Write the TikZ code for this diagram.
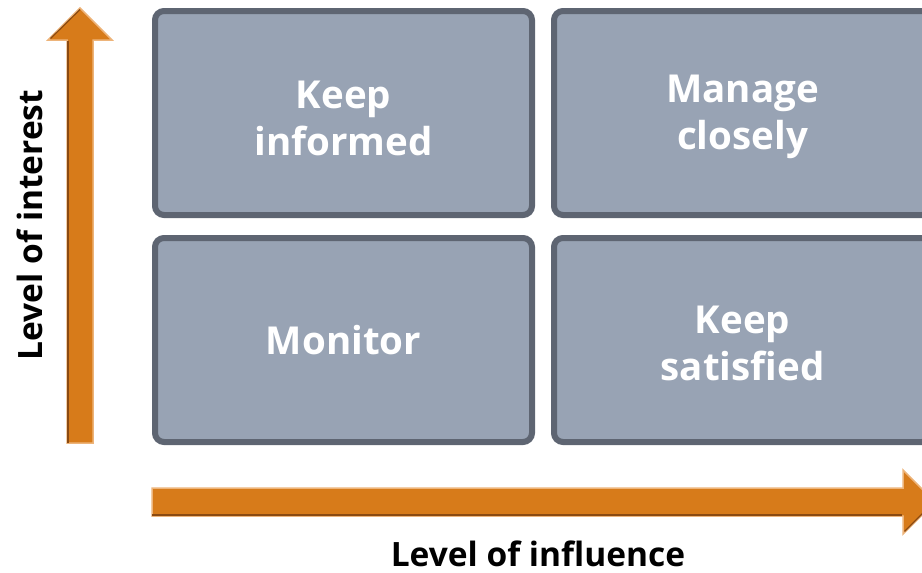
\documentclass[tikz,border=0pt]{standalone}
\usepackage{fontspec}
\setmainfont{Open Sans}
\usetikzlibrary{shadows}
\definecolor{boxfill}{HTML}{98A3B4}
\definecolor{boxedge}{HTML}{5E6572}
\definecolor{arrowfill}{HTML}{D77B1A}
\definecolor{arrowlight}{HTML}{EDB47A}
\definecolor{arrowdark}{HTML}{8A4A12}
\begin{document}
\begin{tikzpicture}[x=1pt,y=-1pt,
  quad/.style={draw=boxedge, line width=6pt, fill=boxfill, rounded corners=9pt,
    minimum width=377pt, minimum height=204pt, inner sep=0pt,
    drop shadow={shadow xshift=0pt, shadow yshift=-2.5pt, fill=boxedge, opacity=1}},
  quadtext/.style={font=\bfseries\fontsize{38.5}{47}\selectfont, text=white, align=center, inner sep=1pt},
  axislabel/.style={font=\bfseries\fontsize{33.5}{38}\selectfont, text=black, anchor=base, inner sep=1pt},
  axisarrow/.style={fill=arrowfill, draw=arrowlight, line width=1.5pt, line join=miter}
]
\useasboundingbox (0,0) rectangle (922,573);
\clip (0,0) rectangle (922,573);

% boxes
\node[quad] (ki) at (343.5,113) {};
\node[quad] (mc) at (742.5,113) {};
\node[quad] (mo) at (343.5,340) {};
\node[quad] (ks) at (742.5,340) {};
\node[quadtext] (kit) at ([yshift=-5pt]ki.center) {Keep\\informed};
\node[quadtext] (mct) at ([yshift=-4pt]mc.center) {Manage\\closely};
\node[quadtext] (mot) at (mo.center) {Monitor};
\node[quadtext] (kst) at ([yshift=-3pt]ks.center) {Keep\\satisfied};

% vertical arrow
\draw[axisarrow] (67,443) -- (67,40) -- (48,40) -- (80,8) -- (112,40) -- (93,40) -- (93,443) -- cycle;
\draw[arrowdark, line width=1.5pt] (68,443) -- (68,41);
\draw[arrowdark, line width=1.2pt] (50.5,38.5) -- (80,9.5);
% horizontal arrow
\draw[axisarrow] (152,488) -- (903,488) -- (903,470) -- (935,502) -- (903,534) -- (903,516) -- (152,516) -- cycle;
\draw[arrowdark, line width=1.5pt] (152,515) -- (902,515);
\draw[arrowdark, line width=1.2pt] (904.5,531.5) -- (933,503);

% axis labels
\node[axislabel, rotate=90] (li) at (42,225) {Level of interest};
\node[axislabel] (lf) at (538,566) {Level of influence};
\end{tikzpicture}
\end{document}
